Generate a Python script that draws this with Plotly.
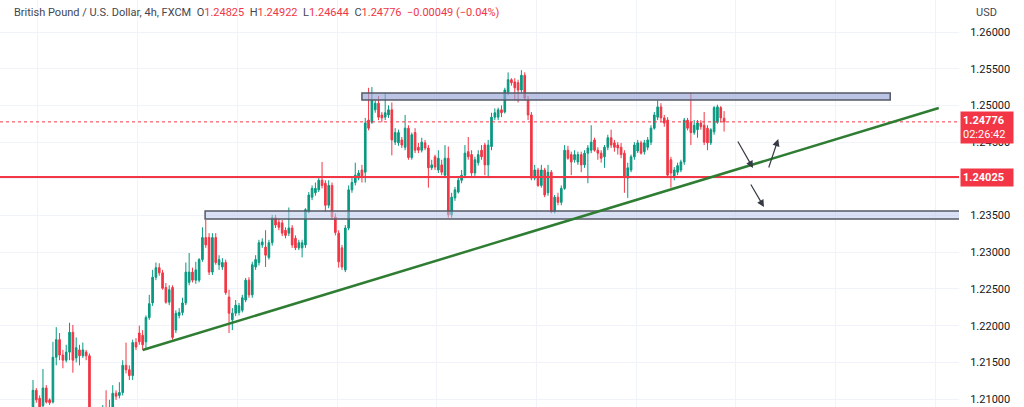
import plotly.graph_objects as go

# ---- data (GBP/USD 4h candles) ----
opens = [1.2089,1.2112,1.2101,1.2091,1.2115,1.2099,1.2096,1.2157,1.2181,1.2160,1.2153,1.2164,1.2191,1.2156,1.2167,1.2159,1.2164,1.2159,
 1.2078,1.2065,1.2074,1.2061,1.2082,1.2072,1.2088,1.2108,1.2105,1.2109,1.2146,1.2140,1.2132,1.2177,1.2190,1.2187,
 1.2178,1.2211,1.2231,1.2266,1.2279,1.2272,1.2252,1.2232,1.2252,1.2194,1.2214,1.2218,1.2231,1.2259,1.2273,1.2262,1.2262,1.2290,
 1.2320,1.2320,1.2273,1.2320,1.2283,1.2280,1.2286,1.2239,1.2208,1.2217,1.2218,1.2221,1.2235,1.2262,1.2242,1.2280,1.2286,1.2310,
 1.2307,1.2293,1.2313,1.2347,1.2341,1.2340,1.2330,1.2326,1.2333,1.2319,1.2306,1.2306,1.2310,1.2355,1.2375,1.2381,1.2385,1.2398,
 1.2394,1.2364,1.2391,1.2348,1.2326,1.2306,1.2276,1.2333,1.2385,1.2395,1.2401,1.2412,1.2409,1.2480,1.2477,1.2494,1.2503,1.2487,
 1.2484,1.2487,1.2494,1.2450,1.2449,1.2453,1.2443,1.2469,1.2429,1.2463,1.2443,1.2439,1.2449,1.2442,1.2415,1.2430,1.2412,1.2419,
 1.2405,1.2428,1.2351,1.2374,1.2382,1.2398,1.2405,1.2437,1.2433,1.2408,1.2422,1.2439,1.2446,1.2419,1.2444,1.2484,1.2484,1.2494,
 1.2491,1.2518,1.2535,1.2532,1.2531,1.2521,1.2541,1.2507,1.2487,1.2401,1.2412,1.2391,1.2412,1.2381,1.2409,1.2355,1.2375,1.2368,
 1.2387,1.2439,1.2433,1.2426,1.2423,1.2433,1.2419,1.2435,1.2439,1.2453,1.2439,1.2435,1.2430,1.2443,1.2456,1.2449,1.2446,1.2443,
 1.2435,1.2401,1.2412,1.2430,1.2438,1.2449,1.2437,1.2443,1.2450,1.2469,1.2484,1.2498,1.2483,1.2480,1.2426,1.2402,1.2409,1.2412,
 1.2423,1.2480,1.2477,1.2463,1.2467,1.2476,1.2473,1.2469,1.2449,1.2464,1.2477,1.2497,1.24825]
highs = [1.2126,1.2115,1.2105,1.2141,1.2119,1.2101,1.2178,1.2198,1.2190,1.2167,1.2174,1.2204,1.2201,1.2184,1.2174,1.2177,1.2167,1.2162,
 1.2085,1.2082,1.2080,1.2092,1.2112,1.2099,1.2119,1.2112,1.2123,1.2153,1.2177,1.2146,1.2181,1.2183,1.2200,1.2194,
 1.2214,1.2242,1.2276,1.2286,1.2285,1.2276,1.2258,1.2255,1.2255,1.2221,1.2224,1.2238,1.2286,1.2299,1.2279,1.2287,1.2292,1.2334,
 1.2344,1.2326,1.2326,1.2326,1.2296,1.2292,1.2290,1.2249,1.2224,1.2235,1.2231,1.2242,1.2265,1.2266,1.2287,1.2296,1.2317,1.2319,
 1.2330,1.2317,1.2351,1.2351,1.2346,1.2344,1.2334,1.2361,1.2337,1.2323,1.2317,1.2317,1.2360,1.2382,1.2391,1.2395,1.2401,1.2423,
 1.2398,1.2398,1.2395,1.2353,1.2330,1.2310,1.2337,1.2391,1.2401,1.2422,1.2412,1.2419,1.2483,1.2524,1.2525,1.2507,1.2513,1.2491,
 1.2517,1.2500,1.2504,1.2469,1.2467,1.2457,1.2487,1.2473,1.2463,1.2469,1.2449,1.2456,1.2453,1.2446,1.2426,1.2433,1.2439,1.2426,
 1.2446,1.2444,1.2381,1.2389,1.2402,1.2412,1.2446,1.2457,1.2439,1.2430,1.2439,1.2446,1.2449,1.2453,1.2490,1.2496,1.2497,1.2500,
 1.2524,1.2545,1.2537,1.2537,1.2535,1.2548,1.2545,1.2513,1.2491,1.2419,1.2415,1.2419,1.2415,1.2419,1.2412,1.2378,1.2381,1.2391,
 1.2446,1.2445,1.2437,1.2439,1.2437,1.2437,1.2439,1.2446,1.2473,1.2456,1.2443,1.2439,1.2446,1.2460,1.2467,1.2453,1.2450,1.2449,
 1.2439,1.2422,1.2433,1.2450,1.2453,1.2452,1.2453,1.2457,1.2473,1.2491,1.2507,1.2503,1.2487,1.2484,1.2430,1.2416,1.2422,1.2426,
 1.2483,1.2483,1.2517,1.2480,1.2480,1.2480,1.2491,1.2473,1.2469,1.2499,1.2501,1.2499,1.24922]
lows = [1.2085,1.2095,1.2085,1.2087,1.2094,1.2092,1.2094,1.2146,1.2153,1.2142,1.2150,1.2153,1.2136,1.2150,1.2146,1.2156,1.2153,1.2072,
 1.2058,1.2055,1.2053,1.2055,1.2065,1.2067,1.2082,1.2099,1.2101,1.2105,1.2135,1.2126,1.2126,1.2167,1.2174,1.2167,
 1.2167,1.2208,1.2227,1.2262,1.2268,1.2249,1.2230,1.2228,1.2181,1.2190,1.2210,1.2214,1.2228,1.2255,1.2259,1.2257,1.2259,1.2287,
 1.2306,1.2269,1.2269,1.2283,1.2276,1.2276,1.2242,1.2190,1.2194,1.2213,1.2214,1.2218,1.2232,1.2238,1.2238,1.2276,1.2282,1.2306,
 1.2280,1.2290,1.2309,1.2333,1.2330,1.2322,1.2319,1.2322,1.2306,1.2303,1.2303,1.2293,1.2306,1.2353,1.2371,1.2377,1.2382,1.2387,
 1.2355,1.2360,1.2344,1.2323,1.2279,1.2276,1.2273,1.2330,1.2381,1.2391,1.2398,1.2395,1.2395,1.2466,1.2475,1.2490,1.2480,1.2477,
 1.2480,1.2483,1.2432,1.2446,1.2445,1.2442,1.2439,1.2426,1.2426,1.2435,1.2435,1.2436,1.2439,1.2388,1.2412,1.2412,1.2408,1.2405,
 1.2401,1.2347,1.2347,1.2370,1.2380,1.2394,1.2401,1.2426,1.2404,1.2404,1.2418,1.2426,1.2405,1.2401,1.2439,1.2480,1.2480,1.2484,
 1.2489,1.2514,1.2527,1.2507,1.2504,1.2517,1.2507,1.2480,1.2398,1.2398,1.2389,1.2388,1.2375,1.2377,1.2353,1.2353,1.2364,1.2364,
 1.2385,1.2426,1.2405,1.2422,1.2419,1.2409,1.2415,1.2394,1.2435,1.2437,1.2426,1.2422,1.2415,1.2439,1.2442,1.2437,1.2433,1.2428,
 1.2381,1.2374,1.2409,1.2426,1.2435,1.2433,1.2433,1.2439,1.2446,1.2467,1.2480,1.2477,1.2471,1.2401,1.2388,1.2398,1.2405,1.2409,
 1.2419,1.2466,1.2446,1.2460,1.2456,1.2467,1.2446,1.2439,1.2446,1.2460,1.2475,1.2477,1.24644]
closes = [1.2112,1.2099,1.2089,1.2115,1.2096,1.2095,1.2157,1.2181,1.2160,1.2153,1.2164,1.2191,1.2153,1.2170,1.2159,1.2167,1.2159,1.2078,
 1.2065,1.2074,1.2061,1.2082,1.2072,1.2088,1.2108,1.2104,1.2109,1.2146,1.2140,1.2132,1.2177,1.2171,1.2178,1.2174,
 1.2211,1.2230,1.2266,1.2279,1.2272,1.2251,1.2232,1.2249,1.2184,1.2217,1.2218,1.2231,1.2273,1.2273,1.2262,1.2276,1.2290,1.2320,
 1.2310,1.2273,1.2320,1.2286,1.2290,1.2286,1.2245,1.2217,1.2217,1.2228,1.2227,1.2238,1.2262,1.2242,1.2283,1.2290,1.2313,1.2314,
 1.2296,1.2313,1.2347,1.2337,1.2334,1.2326,1.2323,1.2333,1.2310,1.2306,1.2313,1.2313,1.2358,1.2378,1.2387,1.2387,1.2398,1.2391,
 1.2364,1.2391,1.2348,1.2327,1.2287,1.2280,1.2333,1.2385,1.2395,1.2405,1.2408,1.2402,1.2476,1.2469,1.2507,1.2503,1.2484,1.2483,
 1.2490,1.2494,1.2453,1.2463,1.2463,1.2446,1.2469,1.2429,1.2460,1.2439,1.2439,1.2450,1.2442,1.2415,1.2419,1.2416,1.2428,1.2409,
 1.2428,1.2351,1.2375,1.2385,1.2398,1.2405,1.2435,1.2430,1.2408,1.2426,1.2433,1.2430,1.2419,1.2446,1.2484,1.2490,1.2494,1.2490,
 1.2521,1.2535,1.2531,1.2524,1.2521,1.2541,1.2510,1.2487,1.2401,1.2412,1.2391,1.2412,1.2378,1.2409,1.2355,1.2375,1.2368,1.2387,
 1.2439,1.2428,1.2423,1.2433,1.2433,1.2419,1.2435,1.2442,1.2450,1.2439,1.2435,1.2428,1.2443,1.2456,1.2446,1.2443,1.2442,1.2433,
 1.2402,1.2415,1.2430,1.2446,1.2449,1.2435,1.2449,1.2453,1.2469,1.2487,1.2498,1.2483,1.2476,1.2405,1.2408,1.2412,1.2418,1.2423,
 1.2480,1.2469,1.2463,1.2473,1.2476,1.2471,1.2450,1.2449,1.2467,1.2497,1.2498,1.2483,1.24776]

price_ticks = [1.21, 1.215, 1.22, 1.225, 1.23, 1.235, 1.24, 1.245, 1.25, 1.255, 1.26]
hidden_tick = 1.24  # covered by the support-level price tag
support_level = 1.24025
last_close = 1.24776
countdown = "02:26:42"
upper_zone = (1.25074, 1.25169)
lower_zone = (1.23453, 1.23562)
trend_start = (33.0, 1.21669)
trend_end = (272.6, 1.24965)

GREEN = "#089981"
RED = "#f23645"
GRID = "#f0f3fa"

x = list(range(len(opens)))

fig = go.Figure()
fig.add_trace(go.Candlestick(
    x=x, open=opens, high=highs, low=lows, close=closes,
    increasing=dict(line=dict(color=GREEN, width=1), fillcolor=GREEN),
    decreasing=dict(line=dict(color=RED, width=1), fillcolor=RED),
    hoverinfo="skip", showlegend=False,
))

shapes = []
# zones
shapes.append(dict(type="rect", xref="x", yref="y", x0=99.0, x1=258.0,
                   y0=upper_zone[0], y1=upper_zone[1],
                   fillcolor="rgba(150,165,215,0.65)", line=dict(color="#555866", width=1.5), layer="above"))
shapes.append(dict(type="rect", xref="x", yref="y", x0=51.8, x1=300,
                   y0=lower_zone[0], y1=lower_zone[1],
                   fillcolor="rgba(190,200,235,0.55)", line=dict(color="#555866", width=1.5), layer="above"))
# support line
shapes.append(dict(type="line", xref="paper", yref="y", x0=0, x1=1, y0=support_level, y1=support_level,
                   line=dict(color=RED, width=2)))
# last price dotted line
shapes.append(dict(type="line", xref="paper", yref="y", x0=0, x1=1, y0=last_close, y1=last_close,
                   line=dict(color=RED, width=1, dash="dot")))
# trendline
shapes.append(dict(type="line", xref="x", yref="y", x0=trend_start[0], y0=trend_start[1],
                   x1=trend_end[0], y1=trend_end[1], line=dict(color="#2e7d32", width=2.5)))

annotations = []
title_html = ('British Pound / U.S. Dollar, 4h, FXCM&nbsp;&nbsp;'
              'O<span style="color:#f23645">1.24825</span>&nbsp;&nbsp;'
              'H<span style="color:#f23645">1.24922</span>&nbsp;&nbsp;'
              'L<span style="color:#f23645">1.24644</span>&nbsp;&nbsp;'
              'C<span style="color:#f23645">1.24776</span>&nbsp;&nbsp;'
              '<span style="color:#f23645">\u22120.00049 (\u22120.04%)</span>')
annotations.append(dict(xref="paper", yref="paper", x=0, y=1, xanchor="left", yanchor="top",
                        xshift=12, yshift=-4, text=title_html, showarrow=False,
                        font=dict(size=11, color="#434651")))
annotations.append(dict(xref="paper", yref="paper", x=1, y=1, xanchor="left", yanchor="top",
                        xshift=15, yshift=-4, text="USD", showarrow=False,
                        font=dict(size=11, color="#434651")))
annotations.append(dict(xref="paper", yref="y", x=1, y=last_close, xanchor="left", yanchor="middle",
                        xshift=1, yshift=-5.5, text="<b>1.24776</b><br>" + countdown, showarrow=False,
                        bgcolor=RED, font=dict(size=11, color="white"), align="left",
                        width=48, borderpad=2))
annotations.append(dict(xref="paper", yref="y", x=1, y=support_level, xanchor="left", yanchor="middle",
                        xshift=1, text="<b>1.24025</b>", showarrow=False,
                        bgcolor=RED, font=dict(size=11, color="white"), align="left",
                        width=48, borderpad=2))
# arrows
for hx, hy, ax, ay in [(216.7, 1.24148, -16, -28), (224.3, 1.24543, -10, 30), (220.0, 1.23616, -14, -24)]:
    annotations.append(dict(xref="x", yref="y", x=hx, y=hy, ax=ax, ay=ay, showarrow=True,
                            arrowhead=2, arrowsize=1.2, arrowwidth=1.2, arrowcolor="#363a45", text=""))

fig.update_layout(
    width=1024, height=407,
    margin=dict(l=0, r=65, t=0, b=0),
    paper_bgcolor="white", plot_bgcolor="white",
    font=dict(family="Trebuchet MS, Roboto, sans-serif", size=11, color="#131722"),
    shapes=shapes, annotations=annotations,
    xaxis=dict(range=[-9.93, 278.7], showticklabels=False, tickvals=[1.5 + 30 * k for k in range(10)],
               showgrid=True, gridcolor=GRID, zeroline=False, showline=False, rangeslider=dict(visible=False),
               fixedrange=True),
    yaxis=dict(side="right", range=[1.208925, 1.264358], tickvals=price_ticks,
               ticktext=["" if v == hidden_tick else f"{v:.5f}" for v in price_ticks],
               showgrid=True, gridcolor=GRID,
               zeroline=False, showline=False, ticks="outside", ticklen=8, tickcolor="rgba(0,0,0,0)",
               tickfont=dict(size=11, color="#131722")),
)

fig.write_html("out.html", config={"displayModeBar": False},
               post_script="document.body.style.margin='0';document.body.style.padding='0';")
